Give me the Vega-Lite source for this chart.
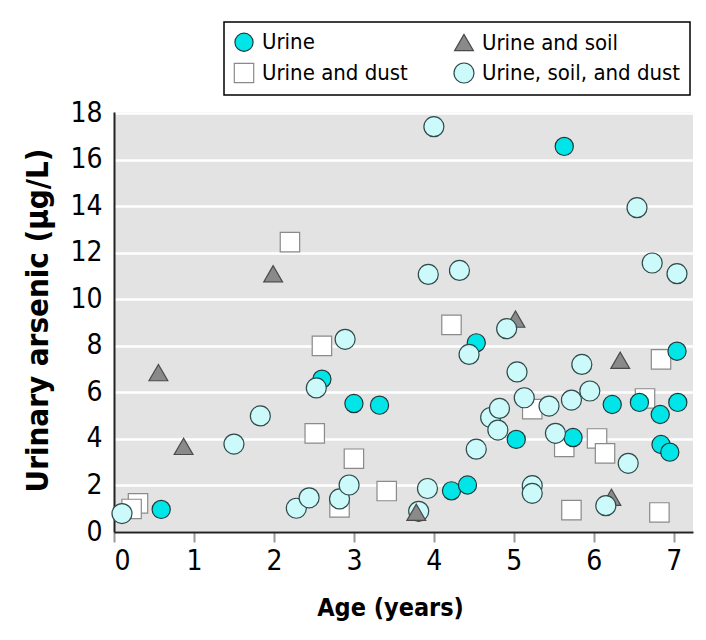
{
  "$schema": "https://vega.github.io/schema/vega-lite/v6.json",
  "width": 579,
  "height": 420,
  "autosize": {"type": "none"},
  "padding": {"left": 114, "top": 112, "right": 13, "bottom": 108},
  "background": "white",
  "config": {
    "view": {"fill": "#e3e3e3", "stroke": null},
    "font": "DejaVu Sans Condensed",
    "legend": {
      "title": null, "orient": "none", "legendX": 110, "legendY": -90, "columns": 2,
      "fillColor": "white", "strokeColor": "black", "strokeWidth": 1.5, "padding": 9,
      "labelFont": "DejaVu Sans Condensed", "labelFontSize": 22, "labelColor": "black", "labelLimit": 400,
      "symbolStrokeWidth": 1.2, "columnPadding": 43, "rowPadding": 6, "labelOffset": 7
    }
  },
  "data": {
    "values": [
      {"age": 0.30, "arsenic": 1.23, "group": "Urine and dust"},
      {"age": 0.22, "arsenic": 0.99, "group": "Urine and dust"},
      {"age": 2.20, "arsenic": 12.46, "group": "Urine and dust"},
      {"age": 2.60, "arsenic": 8.0, "group": "Urine and dust"},
      {"age": 2.51, "arsenic": 4.24, "group": "Urine and dust"},
      {"age": 3.0, "arsenic": 3.15, "group": "Urine and dust"},
      {"age": 2.82, "arsenic": 1.06, "group": "Urine and dust"},
      {"age": 3.41, "arsenic": 1.76, "group": "Urine and dust"},
      {"age": 4.22, "arsenic": 8.9, "group": "Urine and dust"},
      {"age": 5.23, "arsenic": 5.28, "group": "Urine and dust"},
      {"age": 5.63, "arsenic": 3.66, "group": "Urine and dust"},
      {"age": 5.72, "arsenic": 0.94, "group": "Urine and dust"},
      {"age": 6.04, "arsenic": 4.02, "group": "Urine and dust"},
      {"age": 6.14, "arsenic": 3.38, "group": "Urine and dust"},
      {"age": 6.64, "arsenic": 5.74, "group": "Urine and dust"},
      {"age": 6.84, "arsenic": 7.42, "group": "Urine and dust"},
      {"age": 6.82, "arsenic": 0.84, "group": "Urine and dust"},
      {"age": 0.59, "arsenic": 0.97, "group": "Urine"},
      {"age": 2.60, "arsenic": 6.57, "group": "Urine"},
      {"age": 3.0, "arsenic": 5.52, "group": "Urine"},
      {"age": 3.32, "arsenic": 5.45, "group": "Urine"},
      {"age": 4.22, "arsenic": 1.77, "group": "Urine"},
      {"age": 4.42, "arsenic": 2.02, "group": "Urine"},
      {"age": 4.53, "arsenic": 8.13, "group": "Urine"},
      {"age": 5.03, "arsenic": 3.98, "group": "Urine"},
      {"age": 5.63, "arsenic": 16.57, "group": "Urine"},
      {"age": 5.74, "arsenic": 4.06, "group": "Urine"},
      {"age": 6.23, "arsenic": 5.48, "group": "Urine"},
      {"age": 6.57, "arsenic": 5.57, "group": "Urine"},
      {"age": 6.83, "arsenic": 5.05, "group": "Urine"},
      {"age": 6.84, "arsenic": 3.76, "group": "Urine"},
      {"age": 6.95, "arsenic": 3.43, "group": "Urine"},
      {"age": 7.04, "arsenic": 7.77, "group": "Urine"},
      {"age": 7.05, "arsenic": 5.57, "group": "Urine"},
      {"age": 0.555, "arsenic": 6.85, "group": "Urine and soil"},
      {"age": 0.87, "arsenic": 3.68, "group": "Urine and soil"},
      {"age": 1.99, "arsenic": 11.1, "group": "Urine and soil"},
      {"age": 5.02, "arsenic": 9.15, "group": "Urine and soil"},
      {"age": 6.33, "arsenic": 7.38, "group": "Urine and soil"},
      {"age": 6.22, "arsenic": 1.49, "group": "Urine and soil"},
      {"age": 0.10, "arsenic": 0.79, "group": "Urine, soil, and dust"},
      {"age": 1.50, "arsenic": 3.78, "group": "Urine, soil, and dust"},
      {"age": 1.83, "arsenic": 4.99, "group": "Urine, soil, and dust"},
      {"age": 2.28, "arsenic": 1.02, "group": "Urine, soil, and dust"},
      {"age": 2.44, "arsenic": 1.47, "group": "Urine, soil, and dust"},
      {"age": 2.82, "arsenic": 1.42, "group": "Urine, soil, and dust"},
      {"age": 2.94, "arsenic": 2.02, "group": "Urine, soil, and dust"},
      {"age": 2.53, "arsenic": 6.19, "group": "Urine, soil, and dust"},
      {"age": 2.89, "arsenic": 8.28, "group": "Urine, soil, and dust"},
      {"age": 3.81, "arsenic": 0.89, "group": "Urine, soil, and dust"},
      {"age": 3.92, "arsenic": 1.87, "group": "Urine, soil, and dust"},
      {"age": 3.93, "arsenic": 11.07, "group": "Urine, soil, and dust"},
      {"age": 4.0, "arsenic": 17.42, "group": "Urine, soil, and dust"},
      {"age": 4.32, "arsenic": 11.24, "group": "Urine, soil, and dust"},
      {"age": 4.44, "arsenic": 7.63, "group": "Urine, soil, and dust"},
      {"age": 4.53, "arsenic": 3.56, "group": "Urine, soil, and dust"},
      {"age": 4.71, "arsenic": 4.92, "group": "Urine, soil, and dust"},
      {"age": 4.80, "arsenic": 4.38, "group": "Urine, soil, and dust"},
      {"age": 4.82, "arsenic": 5.31, "group": "Urine, soil, and dust"},
      {"age": 4.91, "arsenic": 8.74, "group": "Urine, soil, and dust"},
      {"age": 5.04, "arsenic": 6.88, "group": "Urine, soil, and dust"},
      {"age": 5.13, "arsenic": 5.77, "group": "Urine, soil, and dust"},
      {"age": 5.23, "arsenic": 1.99, "group": "Urine, soil, and dust"},
      {"age": 5.23, "arsenic": 1.66, "group": "Urine, soil, and dust"},
      {"age": 5.44, "arsenic": 5.41, "group": "Urine, soil, and dust"},
      {"age": 5.52, "arsenic": 4.24, "group": "Urine, soil, and dust"},
      {"age": 5.72, "arsenic": 5.67, "group": "Urine, soil, and dust"},
      {"age": 5.85, "arsenic": 7.2, "group": "Urine, soil, and dust"},
      {"age": 5.95, "arsenic": 6.06, "group": "Urine, soil, and dust"},
      {"age": 6.15, "arsenic": 1.13, "group": "Urine, soil, and dust"},
      {"age": 6.43, "arsenic": 2.95, "group": "Urine, soil, and dust"},
      {"age": 6.54, "arsenic": 13.94, "group": "Urine, soil, and dust"},
      {"age": 6.73, "arsenic": 11.56, "group": "Urine, soil, and dust"},
      {"age": 7.04, "arsenic": 11.1, "group": "Urine, soil, and dust"},
      {"age": 3.78, "arsenic": 0.85, "group": "Urine and soil"}
    ]
  },
  "mark": {"type": "point", "filled": true, "strokeWidth": 1.2, "opacity": 1},
  "encoding": {
    "x": {
      "field": "age", "type": "quantitative",
      "scale": {"domain": [0, 7.24], "nice": false, "zero": false},
      "axis": {
        "title": "Age (years)", "values": [0, 1, 2, 3, 4, 5, 6, 7], "grid": false,
        "domainColor": "#222", "domainWidth": 2,
        "tickColor": "#999", "tickWidth": 2, "tickSize": 10,
        "labelFont": "DejaVu Sans Condensed", "labelFontSize": 28, "labelColor": "black", "labelPadding": 5,
        "titleFont": "DejaVu Sans Condensed", "titleFontSize": 25, "titleFontWeight": "bold", "titleColor": "black", "titlePadding": 20, "titleX": 276
      }
    },
    "y": {
      "field": "arsenic", "type": "quantitative",
      "scale": {"domain": [0, 18.05], "nice": false},
      "axis": {
        "title": "Urinary arsenic (μg/L)", "values": [0, 2, 4, 6, 8, 10, 12, 14, 16, 18],
        "grid": true, "gridColor": "white", "gridWidth": 2.5,
        "domainColor": "#222", "domainWidth": 2, "ticks": false,
        "labelFont": "DejaVu Sans Condensed", "labelFontSize": 28, "labelColor": "black", "labelPadding": 12,
        "titleFont": "DejaVu Sans Condensed", "titleFontSize": 31, "titleFontWeight": "bold", "titleColor": "black", "titlePadding": 15, "titleY": 208
      }
    },
    "shape": {
      "field": "group", "type": "nominal",
      "scale": {"domain": ["Urine", "Urine and soil", "Urine and dust", "Urine, soil, and dust"], "range": ["circle", "triangle-up", "square", "circle"]},
      "legend": {"values": ["Urine", "Urine and dust", "Urine and soil", "Urine, soil, and dust"]}
    },
    "fill": {
      "field": "group", "type": "nominal",
      "scale": {"domain": ["Urine", "Urine and soil", "Urine and dust", "Urine, soil, and dust"], "range": ["#00e6e8", "#8a8a8a", "#ffffff", "#ccfafa"]},
      "legend": {"values": ["Urine", "Urine and dust", "Urine and soil", "Urine, soil, and dust"]}
    },
    "stroke": {
      "field": "group", "type": "nominal",
      "scale": {"domain": ["Urine", "Urine and soil", "Urine and dust", "Urine, soil, and dust"], "range": ["#203a3a", "#4a4a4a", "#8a8a8a", "#2f4a4a"]},
      "legend": {"values": ["Urine", "Urine and dust", "Urine and soil", "Urine, soil, and dust"]}
    },
    "size": {
      "field": "group", "type": "nominal",
      "scale": {"domain": ["Urine", "Urine and soil", "Urine and dust", "Urine, soil, and dust"], "range": [330, 400, 340, 330]},
      "legend": {"values": ["Urine", "Urine and dust", "Urine and soil", "Urine, soil, and dust"]}
    }
  }
}
